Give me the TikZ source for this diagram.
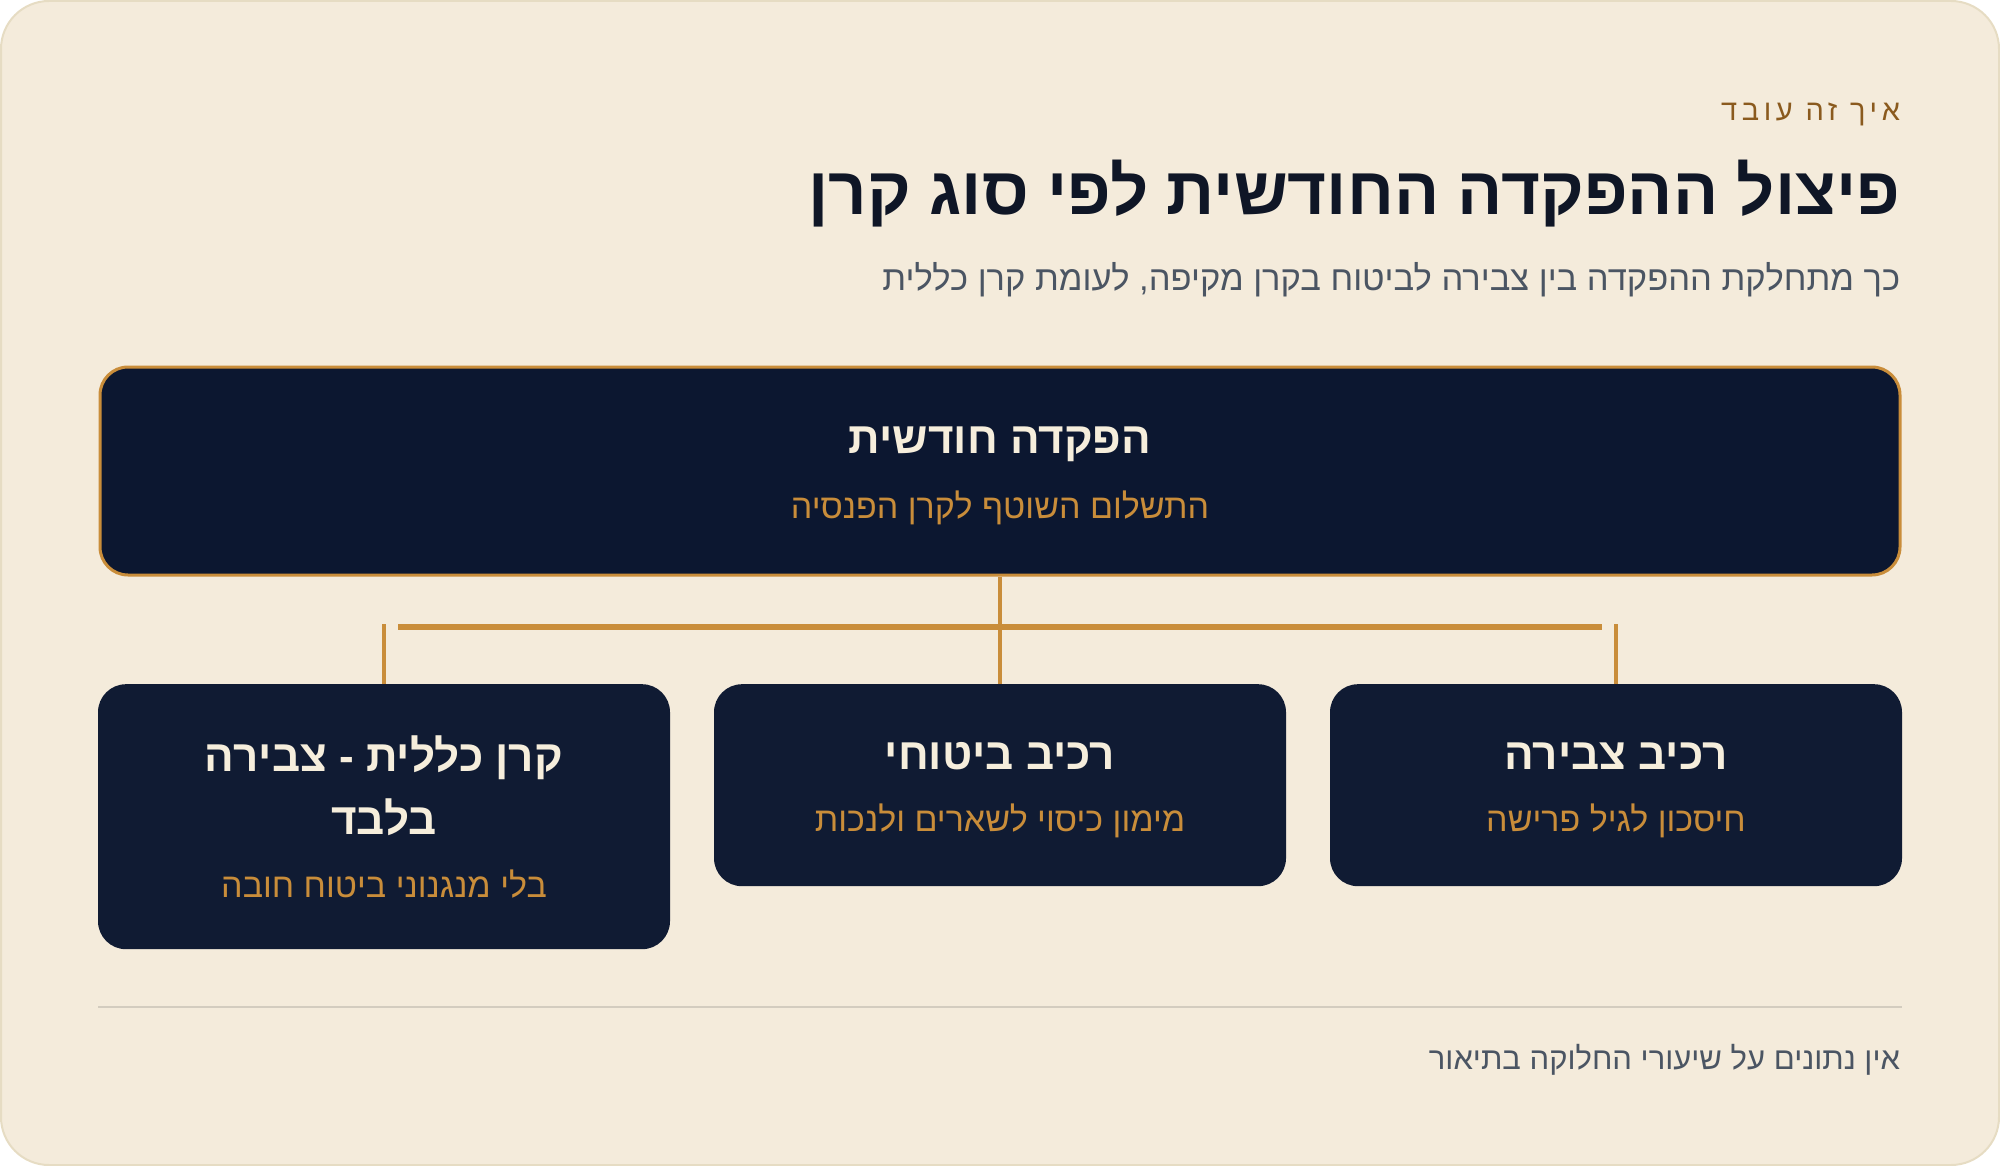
\documentclass[tikz,border=0pt]{standalone}
\usepackage{fontspec}
\setmainfont{Liberation Sans}
\newfontfamily\heb[Script=Hebrew]{Liberation Sans}
\newfontfamily\hebsp[Script=Hebrew,LetterSpace=16]{Liberation Sans}
\TeXXeTstate=1
\definecolor{bgc}{HTML}{F4EBDB}
\definecolor{framec}{HTML}{E6DCC3}
\definecolor{navyA}{HTML}{0C1730}
\definecolor{navyB}{HTML}{101B33}
\definecolor{goldc}{HTML}{C98D3A}
\definecolor{creamc}{HTML}{F6EEDC}
\definecolor{titlec}{HTML}{0F1626}
\definecolor{greyc}{HTML}{4B5563}
\definecolor{brownc}{HTML}{8A5A1E}
\definecolor{rulec}{HTML}{D3CCBF}
\tikzset{
  boxA/.style={draw=goldc, line width=3pt, fill=navyA, rounded corners=28pt, inner sep=0pt},
  boxB/.style={fill=navyB, rounded corners=28pt, inner sep=0pt},
  conn/.style={draw=goldc, line width=4pt},
  hbar/.style={draw=goldc, line width=6pt},
  txt/.style={inner sep=0pt, outer sep=0pt},
  boxtitle/.style={txt, text=creamc, font=\heb\bfseries\fontsize{44}{63}\selectfont, align=center},
  boxsub/.style={txt, text=goldc, font=\heb\fontsize{34}{38}\selectfont},
}
\begin{document}
\begin{tikzpicture}[x=1pt,y=-1pt]
\useasboundingbox (0,0) rectangle (2000,1166);
\draw[draw=framec, line width=2pt, fill=bgc, rounded corners=48pt] (1,1) rectangle (1999,1165);
% header
\node[txt, anchor=east, text=brownc, font=\hebsp\fontsize{29}{34}\selectfont] (kicker) at (1900,114) {\beginR איך זה עובד\endR};
\node[txt, anchor=east, text=titlec, font=\heb\bfseries\fontsize{67}{74}\selectfont] (title) at (1900,194) {\beginR פיצול ההפקדה החודשית לפי סוג קרן\endR};
\node[txt, anchor=east, text=greyc, font=\heb\fontsize{34.5}{40}\selectfont] (subtitle) at (1900,280) {\beginR כך מתחלקת ההפקדה בין צבירה לביטוח בקרן מקיפה, לעומת קרן כללית\endR};
% boxes
\node[boxA, minimum width=1800pt, minimum height=208pt] (top) at (1000,471) {};
\node[boxB, minimum width=572pt, minimum height=265pt, anchor=north] (left) at (384,684) {};
\node[boxB, minimum width=572pt, minimum height=202pt, anchor=north] (mid) at (1000,684) {};
\node[boxB, minimum width=572pt, minimum height=202pt, anchor=north] (right) at (1616,684) {};
% box texts
\node[boxtitle] (topT) at (1000,444) {\beginR הפקדה חודשית\endR};
\node[boxsub] (topS) at (1000,508) {\beginR התשלום השוטף לקרן הפנסיה\endR};
\node[boxtitle] (rightT) at (1616,756) {\beginR רכיב צבירה\endR};
\node[boxsub] (rightS) at (1616,821) {\beginR חיסכון לגיל פרישה\endR};
\node[boxtitle] (midT) at (1000,756) {\beginR רכיב ביטוחי\endR};
\node[boxsub] (midS) at (1000,821) {\beginR מימון כיסוי לשארים ולנכות\endR};
\node[boxtitle] (leftT) at (384,786) {\beginR קרן כללית - צבירה\endR\\\beginR בלבד\endR};
\node[boxsub] (leftS) at (384,884) {\beginR בלי מנגנוני ביטוח חובה\endR};
% connectors
\coordinate (hl) at (398,627);
\coordinate (hr) at (1602,627);
\draw[conn] (top.south) -- (mid.north);
\draw[hbar] (hl) -- (hr);
\draw[conn] (left.north) -- ++(0,-60);
\draw[conn] (right.north) -- ++(0,-60);
% footer
\coordinate (rl) at (98,1007);
\coordinate (rr) at (1902,1007);
\draw[draw=rulec, line width=2pt] (rl) -- (rr);
\node[txt, anchor=east, text=greyc, font=\heb\fontsize{31}{36}\selectfont] (foot) at (1900,1060) {\beginR אין נתונים על שיעורי החלוקה בתיאור\endR};
\end{tikzpicture}
\end{document}
